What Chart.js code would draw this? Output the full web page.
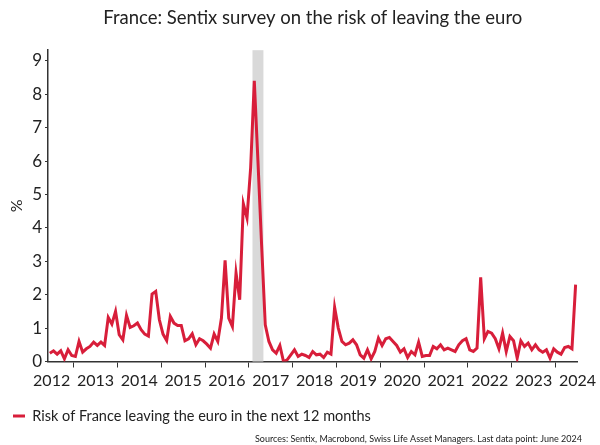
<!DOCTYPE html>
<html>
<head>
<meta charset="utf-8">
<script src="https://cdn.jsdelivr.net/npm/chart.js@4.4.1/dist/chart.umd.min.js"></script>
<style>
  html, body { margin: 0; padding: 0; background: #ffffff; }
  #wrap { width: 600px; height: 445px; position: relative; }
</style>
</head>
<body>
<div id="wrap"><canvas id="c" width="600" height="445"></canvas></div>
<script>
// ---- Data (monthly, June 2012 .. June 2024) ----
const startYear = 2012;
const startMonth = 6; // June
const riskValues = [
  0.25, 0.32, 0.22, 0.32, 0.08, 0.35, 0.18,             // 2012 Jun-Dec
  0.15, 0.60, 0.28, 0.38, 0.45, 0.58, 0.48, 0.58, 0.48, 1.32, 1.12, 1.50, // 2013
  0.80, 0.65, 1.38, 1.02, 1.07, 1.15, 0.95, 0.82, 0.76, 2.02, 2.10, 1.25, // 2014
  0.82, 0.63, 1.35, 1.15, 1.08, 1.08, 0.62, 0.68, 0.83, 0.50, 0.68, 0.62, // 2015
  0.52, 0.40, 0.82, 0.60, 1.30, 3.03, 1.30, 1.05, 2.65, 1.85, 4.72, 4.30, // 2016
  5.80, 8.40, 6.00, 3.50, 1.10, 0.60, 0.35, 0.25, 0.48, 0.00, 0.05, 0.20, // 2017
  0.35, 0.15, 0.22, 0.18, 0.12, 0.30, 0.20, 0.22, 0.12, 0.28, 0.22, 1.62, // 2018
  1.00, 0.60, 0.50, 0.55, 0.65, 0.50, 0.20, 0.10, 0.35, 0.08, 0.30, 0.70, // 2019
  0.48, 0.68, 0.72, 0.60, 0.48, 0.28, 0.38, 0.12, 0.30, 0.20, 0.58, 0.15, // 2020
  0.18, 0.18, 0.45, 0.38, 0.50, 0.35, 0.40, 0.35, 0.30, 0.50, 0.62, 0.68, // 2021
  0.35, 0.30, 0.40, 2.52, 0.68, 0.90, 0.85, 0.68, 0.38, 0.85, 0.30, 0.75, // 2022
  0.62, 0.10, 0.62, 0.45, 0.55, 0.35, 0.50, 0.35, 0.28, 0.35, 0.10, 0.38, // 2023
  0.28, 0.22, 0.42, 0.45, 0.38, 2.30                    // 2024 Jan-Jun
];
const yearLabels = ['2012','2013','2014','2015','2016','2017','2018','2019','2020','2021','2022','2023','2024'];
const yTickValues = [0,1,2,3,4,5,6,7,8,9];
const shadedPeriod = ['2017-02', '2017-05']; // French presidential election period
const seriesName = 'Risk of France leaving the euro in the next 12 months';
const titleText = 'France: Sentix survey on the risk of leaving the euro';
const sourceText = 'Sources: Sentix, Macrobond, Swiss Life Asset Managers. Last data point: June 2024';

// ---- helpers ----
function ymToYears(str) { const [y, m] = str.split('-').map(Number); return y + (m - 1) / 12; }
const points = riskValues.map((v, i) => {
  const mIdx = startMonth - 1 + i;           // months since Jan of startYear
  return { x: startYear + (mIdx + 0.5) / 12, y: v };  // mid-month position
});
const xMin = startYear + (startMonth - 1) / 12;
const xMax = Number(yearLabels[yearLabels.length - 1]) + 0.5;
const bandFrom = ymToYears(shadedPeriod[0]);
const bandTo = ymToYears(shadedPeriod[1]);

const RED = '#d81e3a';
const TEXT = '#222222';
const FONT = 'Lato, "Open Sans", sans-serif';

const shadePlugin = {
  id: 'shade',
  beforeDatasetsDraw(chart) {
    const { ctx, chartArea, scales } = chart;
    const x0 = scales.x.getPixelForValue(bandFrom);
    const x1 = scales.x.getPixelForValue(bandTo);
    ctx.save();
    ctx.fillStyle = '#d9d9d9';
    ctx.fillRect(x0, chartArea.top, x1 - x0, chartArea.bottom - chartArea.top);
    ctx.restore();
  }
};

new Chart(document.getElementById('c'), {
  type: 'line',
  data: {
    datasets: [{
      label: seriesName,
      data: points,
      borderColor: RED,
      backgroundColor: RED,
      borderWidth: 3,
      pointRadius: 0,
      tension: 0,
      fill: false
    }]
  },
  options: {
    responsive: false,
    animation: false,
    layout: { padding: { left: 3, right: 18, top: 0, bottom: 0 } },
    plugins: {
      title: {
        display: true,
        fullSize: false,
        text: titleText,
        color: TEXT,
        font: { family: FONT, size: 18.5, weight: 'normal' },
        padding: { top: 7, bottom: 21 }
      },
      legend: {
        display: true,
        position: 'bottom',
        align: 'start',
        labels: {
          color: TEXT,
          font: { family: FONT, size: 14.5 },
          boxWidth: 12,
          boxHeight: 3,
          padding: 10,
          generateLabels(chart) {
            return Chart.defaults.plugins.legend.labels.generateLabels(chart).map(l => ({ ...l, lineWidth: 0 }));
          }
        }
      },
      subtitle: {
        display: true,
        position: 'bottom',
        align: 'end',
        text: sourceText,
        color: TEXT,
        font: { family: FONT, size: 9 },
        padding: { top: 0, bottom: 1 }
      },
      tooltip: { enabled: false }
    },
    scales: {
      x: {
        type: 'linear',
        min: xMin,
        max: xMax,
        afterBuildTicks(scale) {
          const t = [];
          yearLabels.forEach((y, i) => {
            const yr = Number(y);
            if (i > 0) t.push({ value: yr });
            t.push({ value: yr + 0.5 });
          });
          scale.ticks = t;
        },
        afterFit(scale) { scale.height += 4; },
        ticks: {
          autoSkip: false,
          maxRotation: 0,
          minRotation: 0,
          color: TEXT,
          font: { family: FONT, size: 16 },
          padding: 4,
          callback(v) { return Number.isInteger(v) ? '' : String(Math.floor(v)); }
        },
        grid: {
          drawOnChartArea: false,
          drawTicks: true,
          tickLength: 6,
          tickWidth: 1,
          tickColor(ctx) { return ctx.tick && Number.isInteger(ctx.tick.value) ? '#333' : 'rgba(0,0,0,0)'; }
        },
        border: { display: true, color: '#333', width: 1.5 }
      },
      y: {
        type: 'linear',
        min: 0,
        max: 9.32,
        afterBuildTicks(scale) { scale.ticks = yTickValues.map(v => ({ value: v })); },
        afterFit(scale) { scale.width = 45; },
        title: {
          display: true,
          text: '%',
          color: TEXT,
          font: { family: FONT, size: 16 },
          padding: { top: 4, bottom: 0 }
        },
        ticks: {
          color: TEXT,
          font: { family: FONT, size: 17 },
          padding: 3
        },
        grid: {
          drawOnChartArea: false,
          drawTicks: true,
          tickLength: 3,
          tickColor: '#333'
        },
        border: { display: true, color: '#333', width: 1.5 }
      }
    }
  },
  plugins: [shadePlugin]
});
</script>
</body>
</html>
